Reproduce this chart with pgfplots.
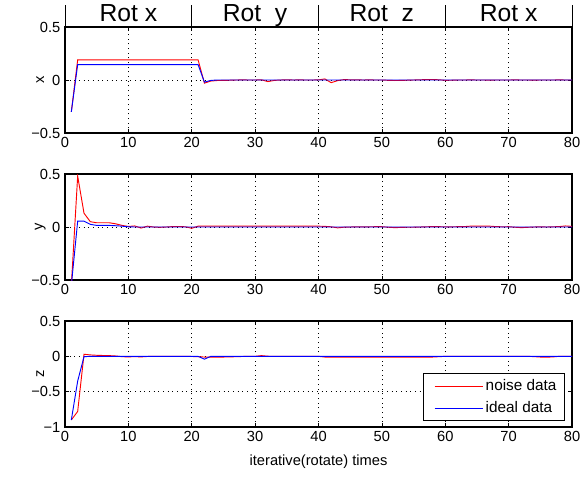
\documentclass[border=0pt]{standalone}
\usepackage{fontspec}
\setmainfont{Liberation Sans}
\usepackage{pgfplots}
\pgfplotsset{compat=1.18}
\usepackage{pgfplotstable}

\pgfplotstableread{
x noise ideal
1 -0.30 -0.30
2 0.19 0.145
3 0.19 0.145
4 0.19 0.145
5 0.19 0.145
6 0.19 0.145
7 0.19 0.145
8 0.19 0.145
9 0.19 0.145
10 0.19 0.145
11 0.19 0.145
12 0.19 0.145
13 0.19 0.145
14 0.19 0.145
15 0.19 0.145
16 0.19 0.145
17 0.19 0.145
18 0.19 0.145
19 0.19 0.145
20 0.19 0.145
21 0.19 0.145
22 -0.03 -0.02
23 -0.01 -0.004
24 -0.005 0
25 -0.004 0
26 -0.002 0
27 0 0
28 0.001 0
29 0 0
30 0 0
31 0.002 0
32 -0.015 0
33 -0.004 0
34 0 0
35 0.002 0
36 0 0
37 0.001 0
38 0 0
39 0 0
40 0.001 0
41 0.01 0
42 -0.025 0
43 -0.006 0
44 0.004 0
45 0.002 0
46 0.002 0
47 0 0
48 0.001 0
49 0 0
50 0 0
51 -0.003 0
52 -0.005 0
53 -0.004 0
54 -0.002 0
55 0 0
56 0.002 0
57 0.004 0
58 0.005 0
59 0.002 0
60 -0.003 0
61 -0.002 0
62 0 0
63 0 0
64 0.001 0
65 0 0
66 0 0
67 -0.001 0
68 0 0
69 0 0
70 0 0
71 0.001 0
72 0 0
73 0 0
74 -0.001 0
75 0 0
76 0 0
77 0 0
78 0.001 0
79 0 0
80 0 0
}\tabx

\pgfplotstableread{
x noise ideal
1 -0.55 -0.55
2 0.48 0.055
3 0.13 0.055
4 0.05 0.025
5 0.04 0.015
6 0.04 0.015
7 0.04 0.015
8 0.03 0.012
9 0.015 0.008
10 0.005 0.002
11 0.01 0
12 -0.01 0
13 0.008 0
14 0 0
15 -0.003 0
16 0 0
17 0.004 0
18 0.005 0
19 0.002 0
20 -0.012 0
21 0.008 0
22 0.008 0
23 0.008 0
24 0.008 0
25 0.008 0
26 0.008 0
27 0.008 0
28 0.008 0
29 0.008 0
30 0.008 0
31 0.008 0
32 0.008 0
33 0.008 0
34 0.008 0
35 0.008 0
36 0.008 0
37 0.008 0
38 0.008 0
39 0.008 0
40 0.008 0
41 0.006 0
42 0.002 0
43 -0.008 0
44 -0.002 0
45 0 0
46 0.002 0
47 0.002 0
48 0.002 0
49 0.003 0
50 0.003 0
51 -0.002 0
52 -0.006 0
53 -0.004 0
54 -0.002 0
55 -0.002 0
56 0 0
57 0.002 0
58 0.004 0
59 0.003 0
60 0.002 0
61 0.002 0
62 0.003 0
63 0.004 0
64 0.008 0
65 0.008 0
66 0.008 0
67 0.008 0
68 0.004 0
69 0.002 0
70 0.003 0
71 -0.002 0
72 -0.006 0
73 -0.003 0
74 0 0
75 0.002 0
76 0 0
77 0.002 0
78 0.004 0
79 0.01 0
80 0.006 0
}\taby

\pgfplotstableread{
x noise ideal
1 -0.90 -0.90
2 -0.78 -0.35
3 0.03 -0.005
4 0.02 0
5 0.015 0
6 0.012 0
7 0.01 0
8 0.005 0
9 -0.005 0
10 -0.008 0
11 -0.004 0
12 -0.008 0
13 -0.002 0
14 0 0
15 0 0
16 0 0
17 0 0
18 0 0
19 0 0
20 -0.002 0
21 -0.005 0
22 -0.01 -0.04
23 -0.01 0
24 -0.01 0
25 -0.01 0
26 -0.008 0
27 -0.005 0
28 -0.002 0
29 0 0
30 0 0
31 0.01 0
32 0.002 0
33 0 0
34 0 0
35 0 0
36 0 0
37 0 0
38 0 0
39 0 0
40 0 0
41 -0.01 0
42 -0.012 0
43 -0.012 0
44 -0.012 0
45 -0.012 0
46 -0.012 0
47 -0.012 0
48 -0.012 0
49 -0.012 0
50 -0.012 0
51 -0.012 0
52 -0.012 0
53 -0.012 0
54 -0.012 0
55 -0.012 0
56 -0.012 0
57 -0.012 0
58 -0.01 0
59 -0.005 0
60 0 0
61 0 0
62 0 0
63 0 0
64 0 0
65 0 0
66 0 0
67 0 0
68 0 0
69 0 0
70 0 0
71 0 0
72 0 0
73 0 0
74 -0.004 0
75 -0.01 0
76 -0.012 0
77 -0.008 0
78 0 0
79 0 0
80 0 0
}\tabz

\pgfplotsset{
  panel/.style={
    scale only axis, width=380.25pt, height=79.5pt,
    xmin=0, xmax=80, xtick={0,10,...,80},
    grid=major,
    grid style={black, line width=0.5pt, dash pattern=on 0.7pt off 2.8pt},
    tick align=inside,
    major tick length=3pt,
    axis line style={black, line width=0.8pt},
    tick style={black, line width=0.5pt},
    ticklabel style={font=\fontsize{11}{13}\selectfont},
    label style={font=\fontsize{11}{13}\selectfont},
    /pgf/number format/assume math mode=true,
    ylabel style={at={(axis description cs:-0.049,0.5)}, anchor=center},
  },
  noise/.style={red, line width=0.7pt},
  ideal/.style={blue, line width=0.7pt},
}

\begin{document}
\begin{tikzpicture}
\begin{axis}[panel, at={(0,0)}, ymin=-0.5, ymax=0.5,
  ytick={-0.5,0,0.5}, yticklabels={−0.5,0,0.5}, ylabel={x}, clip=false]
\addplot[noise] table[x=x,y=noise] {\tabx};
\addplot[ideal] table[x=x,y=ideal] {\tabx};
\pgfplotsinvokeforeach{0,20,40,60,80}{
  \draw[black, line width=0.6pt] (axis cs:#1,0.5) -- (axis cs:#1,0.705);
}
\node[anchor=base, font=\fontsize{18.5}{21}\selectfont] at (axis cs:10,0.55) {Rot x};
\node[anchor=base, font=\fontsize{18.5}{21}\selectfont] at (axis cs:30,0.55) {Rot\ \ y};
\node[anchor=base, font=\fontsize{18.5}{21}\selectfont] at (axis cs:50,0.55) {Rot\ \ z};
\node[anchor=base, font=\fontsize{18.5}{21}\selectfont] at (axis cs:70,0.55) {Rot x};
\end{axis}

\begin{axis}[panel, at={(0,-110.25pt)}, ymin=-0.5, ymax=0.5,
  ytick={-0.5,0,0.5}, yticklabels={−0.5,0,0.5}, ylabel={y}]
\addplot[noise] table[x=x,y=noise] {\taby};
\addplot[ideal] table[x=x,y=ideal] {\taby};
\end{axis}

\begin{axis}[panel, at={(0,-220.5pt)}, ymin=-1, ymax=0.5,
  ytick={-1,-0.5,0,0.5}, yticklabels={−1,−0.5,0,0.5}, ylabel={z},
  xlabel={iterative(rotate) times},
  xlabel style={at={(axis description cs:0.5,-0.33)}, anchor=center},
  legend style={at={(0.986,0.057)}, anchor=south east, draw=black,
    line width=0.6pt, font=\fontsize{11.5}{13.5}\selectfont,
    inner xsep=4pt, inner ysep=2.5pt, row sep=2.5pt, cells={anchor=west}},
  legend image code/.code={\path (-4pt,0pt); \draw[#1] (0pt,0pt) -- (36pt,0pt);},
]
\addplot[noise] table[x=x,y=noise] {\tabz};
\addlegendentry{noise data}
\addplot[ideal] table[x=x,y=ideal] {\tabz};
\addlegendentry{ideal data}
\end{axis}

\pgfresetboundingbox
\path (-48.75pt,-257.25pt) rectangle (387pt,99.75pt);
\end{tikzpicture}
\end{document}
